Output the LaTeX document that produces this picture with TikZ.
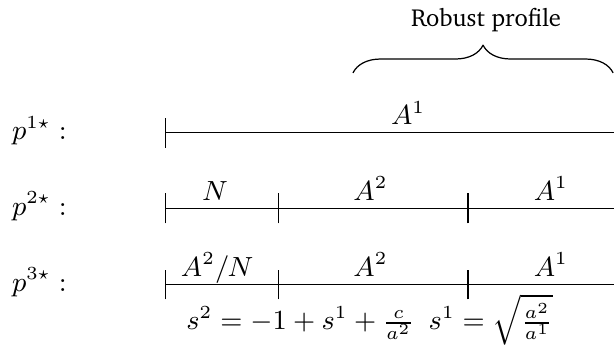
\documentclass[tikz,border=0pt]{standalone}
\usepackage[T1,TU]{fontenc}
\usepackage{amsmath,amssymb}
\usepackage{tikz}
\usetikzlibrary{arrows.meta,calc,positioning,decorations.pathreplacing}
\newcommand{\chartext}{\fontencoding{T1}\fontfamily{bch}\selectfont}
\newcommand{\ninept}{\fontsize{9}{11}\selectfont}
\tikzset{
 seg/.style={{Bar[width=.34cm]}-,line cap=butt},
 lab/.style={anchor=base,inner sep=0pt,font=\ninept},
}

\begin{document}
\begin{tikzpicture}[>=Stealth,line join=round]
 \useasboundingbox (0,0) rectangle (7.01,3.96);
 % rows: name, height of the line
 \foreach \r/\y in {1/2.443,2/1.581,3/0.713}{
  \node[lab,anchor=base west] (p\r)
   at (.13,\y-.08) {$p^{\r\star} :$};
  \coordinate (s\r) at (1.884,\y);
  \coordinate (m\r) at (3.174,\y);
  \coordinate (n\r) at (5.337,\y);
  \coordinate (e\r) at (7.02,\y);
 }
 \draw[seg] (s1) -- (e1);
 \foreach \r in {2,3}{
  \draw[seg] (s\r) -- (m\r);
  \draw[seg] (m\r) -- (n\r);
  \draw[seg] (n\r) -- (e\r);
 }
 % labels over the segments
 \node[lab] (a1) at (4.66,2.533) {$A^1$};
 \node[lab] (a2n) at (2.455,1.671) {$N$};
 \node[lab] (a2b) at (4.23,1.671) {$A^2$};
 \node[lab] (a2a) at (6.29,1.671) {$A^1$};
 \node[lab] (a3n) at (2.48,.803) {$A^2/N$};
 \node[lab] (a3b) at (4.23,.803) {$A^2$};
 \node[lab] (a3a) at (6.29,.803) {$A^1$};
 % bounds below
 \node[lab] (f2) at (3.43,.194) {$s^2=-1+s^1+\frac{c}{a^2}$};
 \node[lab] (f1) at (5.605,.194) {$s^1=\sqrt{\frac{a^2}{a^1}}$};
 % brace
 \coordinate (b1) at (4.03,3.128);
 \coordinate (b2) at (7.0,3.128);
 \draw[decorate,decoration={brace,amplitude=9pt}] (b1) -- (b2);
 \node[lab,font=\footnotesize\chartext] (rob) at (5.55,3.656) {Robust profile};
\end{tikzpicture}
\end{document}
